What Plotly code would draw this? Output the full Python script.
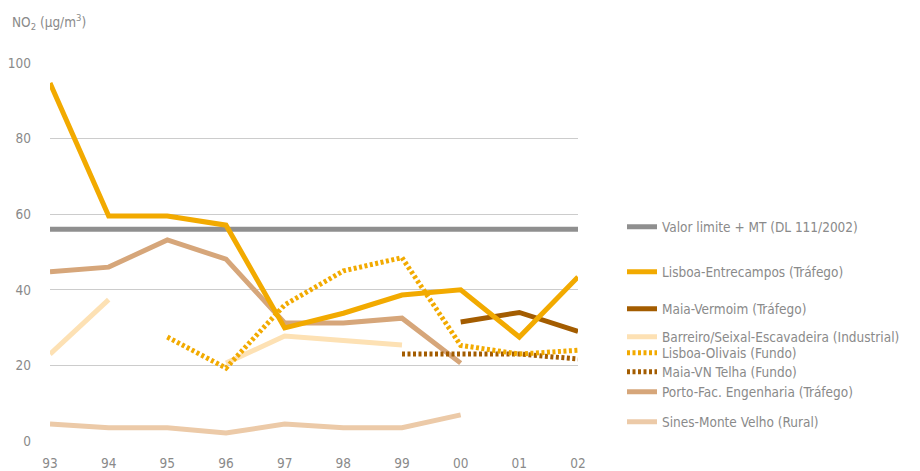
import plotly.graph_objects as go

years = ["93", "94", "95", "96", "97", "98", "99", "00", "01", "02"]

limite = [56, 56, 56, 56, 56, 56, 56, 56, 56, 56]
lisboa_entrecampos = [94.7, 59.5, 59.5, 57.1, 29.9, 33.8, 38.6, 40.0, 27.5, 43.4]
maia_vermoim = [None, None, None, None, None, None, None, 31.5, 34.0, 29.0]
barreiro = [23.0, 37.4, None, 20.6, 27.8, 26.6, 25.4, None, None, None]
lisboa_olivais = [None, None, 27.5, 19.3, 36.0, 45.0, 48.5, 25.3, 23.0, 24.0]
maia_vn_telha = [None, None, None, None, None, None, 23.0, 23.0, 23.0, 21.7]
porto = [44.8, 46.0, 53.2, 48.1, 31.2, 31.2, 32.5, 20.6, None, None]
sines = [4.5, 3.5, 3.5, 2.1, 4.5, 3.5, 3.5, 6.9, None, None]

y_ticks = [0, 20, 40, 60, 80, 100]

series = [
    ("Valor limite + MT (DL 111/2002)", limite, "#8f8f8f", "solid", 227),
    ("Lisboa-Entrecampos (Tráfego)", lisboa_entrecampos, "#f2aa00", "solid", 272),
    ("Maia-Vermoim (Tráfego)", maia_vermoim, "#a35c00", "solid", 309),
    ("Barreiro/Seixal-Escavadeira (Industrial)", barreiro, "#fde1b4", "solid", 337),
    ("Lisboa-Olivais (Fundo)", lisboa_olivais, "#f2aa00", "3px,2.5px", 353),
    ("Maia-VN Telha (Fundo)", maia_vn_telha, "#a35c00", "3px,2.5px", 372),
    ("Porto-Fac. Engenharia (Tráfego)", porto, "#d6a67a", "solid", 392),
    ("Sines-Monte Velho (Rural)", sines, "#eccaa8", "solid", 422),
]

font_family = "DejaVu Sans Condensed, Roboto, sans-serif"
text_color = "#8a8a8a"
fsize = 13.5

# page has an 8px body margin; figure is sized to fit the window
OFF = 8
W, H = 920 - OFF, 471 - OFF
# plot area geometry in window pixels
L, R, T, B = 50, 578, 63, 441
l, r, t, b = L - OFF, R - OFF, T - OFF, B - OFF

fig = go.Figure()
draw_order = [3, 6, 7, 0, 5, 4, 2, 1]
layout_legends = {}
for i in draw_order:
    name, vals, color, dash, ly = series[i]
    key = "legend" if i == 0 else f"legend{i+1}"
    fig.add_trace(go.Scatter(
        x=years, y=vals, name=name, mode="lines",
        line=dict(color=color, width=5, dash=dash),
        connectgaps=False, cliponaxis=False,
        legend=key, hoverinfo="skip",
    ))
    layout_legends[key] = dict(
        x=(622 - L) / (R - L), xanchor="left",
        y=(B - ly) / (B - T), yanchor="middle",
        font=dict(family=font_family, size=fsize, color=text_color),
        bgcolor="rgba(0,0,0,0)", borderwidth=0,
        itemwidth=30, tracegroupgap=0,
    )

fig.update_layout(
    width=W, height=H,
    margin=dict(l=l, r=W - r, t=t, b=H - b, autoexpand=False),
    plot_bgcolor="white", paper_bgcolor="white",
    font=dict(family=font_family, size=fsize, color=text_color),
    showlegend=True,
    xaxis=dict(
        type="category", categoryorder="array", categoryarray=years,
        range=[0, 9], showgrid=False, zeroline=False, showline=False,
        ticks="", ticklabelstandoff=12,
        tickfont=dict(family=font_family, size=fsize, color=text_color),
    ),
    yaxis=dict(
        range=[0, 100], tickvals=y_ticks, showgrid=True,
        gridcolor="#cccccc", gridwidth=1, zeroline=False, showline=False,
        ticks="", ticklabelstandoff=18,
        tickfont=dict(family=font_family, size=fsize, color=text_color),
    ),
    annotations=[dict(
        text="NO<sub>2</sub> (µg/m<sup>3</sup>)", xref="paper", yref="paper",
        x=-(L - 10) / (R - L), xanchor="left",
        y=1 + (T - 22) / (B - T), yanchor="middle", showarrow=False,
        font=dict(family=font_family, size=fsize, color=text_color),
    )],
    **layout_legends,
)

fig.write_html("out.html")
